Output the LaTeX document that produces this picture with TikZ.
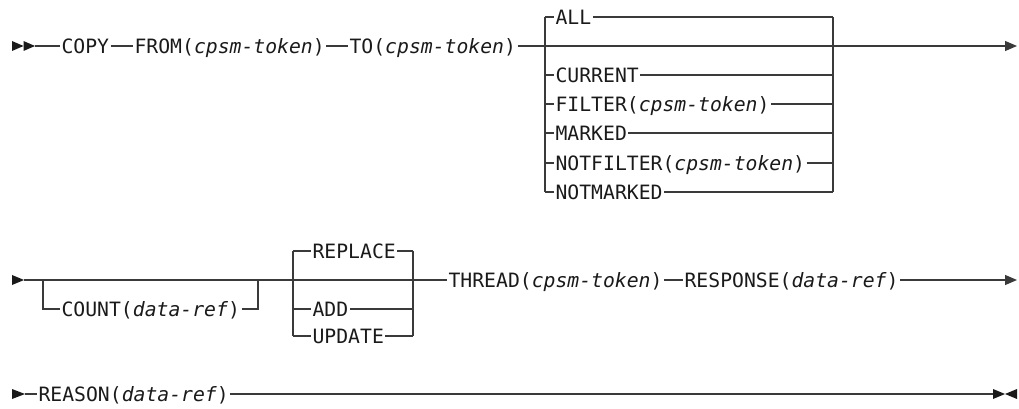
\documentclass[tikz,border=0pt]{standalone}
\usepackage{fontspec}
\setmonofont{DejaVu Sans Mono}
\usetikzlibrary{arrows.meta}
\definecolor{ln}{HTML}{3A3A3A}
\definecolor{tx}{HTML}{1A1A1A}
\tikzset{
  kw/.style={anchor=west, inner xsep=1pt, inner ysep=0pt, text height=10.8pt, text depth=0pt,
    font=\fontsize{14.8pt}{18pt}\selectfont\ttfamily, text=tx},
  rail/.style={draw=ln, line width=0.9pt},
  endarrow/.style={-{Triangle[length=9pt,width=7.5pt]}},
  tipfill/.style={fill=tx, draw=none}
}
\newcommand{\vv}[1]{\textit{#1}}
\begin{document}
\begin{tikzpicture}[x=0.75pt,y=-0.75pt]
\useasboundingbox (0,0) rectangle (1019,409);

% ---------------- Row 1 ----------------
\fill[tipfill] (12,41) -- (23.5,46) -- (12,51) -- cycle;
\fill[tipfill] (23.5,41) -- (35,46) -- (23.5,51) -- cycle;
\coordinate (s1) at (35,46);
\node[kw] (copy) at (60,46) {COPY};
\node[kw] (from) at (133,46) {FROM(\vv{cpsm-token})};
\node[kw] (to) at (348,46) {TO(\vv{cpsm-token})};
\coordinate (j1) at (545,46);
\coordinate (k1) at (833,46);
\coordinate (e1) at (1017,46);

\node[kw] (all) at (554,17) {ALL};
\node[kw] (cur) at (554,75) {CURRENT};
\node[kw] (filt) at (554,104) {FILTER(\vv{cpsm-token})};
\node[kw] (mark) at (554,133) {MARKED};
\node[kw] (nfilt) at (554,163) {NOTFILTER(\vv{cpsm-token})};
\node[kw] (nmark) at (554,192) {NOTMARKED};

\draw[rail] (s1) -- (copy.west);
\draw[rail] (copy.east) -- (from.west);
\draw[rail] (from.east) -- (to.west);
\draw[rail,endarrow] (to.east) -- (e1);
\draw[rail] (all.west -| j1) -- (nmark.west -| j1);
\draw[rail] (all.west -| k1) -- (nmark.west -| k1);
\foreach \n in {all,cur,filt,mark,nfilt,nmark}{
  \draw[rail] (\n.west -| j1) -- (\n.west);
  \draw[rail] (\n.east) -- (\n.east -| k1);
}

% ---------------- Row 2 ----------------
\fill[tipfill] (12,275) -- (24,280) -- (12,285) -- cycle;
\coordinate (s2) at (24,280);
\coordinate (cl) at (43,280);
\coordinate (cr) at (258,280);
\node[kw] (count) at (60,309) {COUNT(\vv{data-ref})};
\coordinate (bl) at (293,280);
\coordinate (br) at (413,280);
\node[kw] (repl) at (311,251) {REPLACE};
\node[kw] (add) at (311,309) {ADD};
\node[kw] (upd) at (311,336) {UPDATE};
\node[kw] (thread) at (447,280) {THREAD(\vv{cpsm-token})};
\node[kw] (resp) at (683,280) {RESPONSE(\vv{data-ref})};
\coordinate (e2) at (1017,280);

\draw[rail] (s2) -- (thread.west);
\draw[rail] (cl) |- (count.west);
\draw[rail] (count.east) -| (cr);
\draw[rail] (repl.west -| bl) -- (upd.west -| bl);
\draw[rail] (repl.east -| br) -- (upd.east -| br);
\foreach \n in {repl,add,upd}{
  \draw[rail] (\n.west -| bl) -- (\n.west);
  \draw[rail] (\n.east) -- (\n.east -| br);
}
\draw[rail] (thread.east) -- (resp.west);
\draw[rail,endarrow] (resp.east) -- (e2);

% ---------------- Row 3 ----------------
\fill[tipfill] (12,389) -- (25,394) -- (12,399) -- cycle;
\coordinate (s3) at (25,394);
\node[kw] (reason) at (37,394) {REASON(\vv{data-ref})};
\coordinate (e3) at (993,394);
\draw[rail] (s3) -- (reason.west);
\draw[rail] (reason.east) -- (e3);
\fill[tipfill] (993,389) -- (1005,394) -- (993,399) -- cycle;
\fill[tipfill] (1017,389) -- (1005,394) -- (1017,399) -- cycle;
\end{tikzpicture}
\end{document}
